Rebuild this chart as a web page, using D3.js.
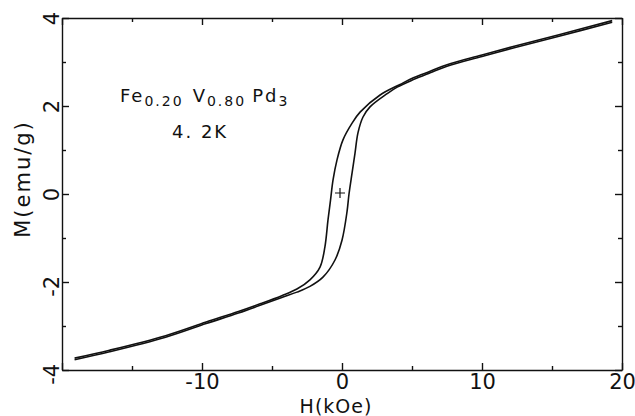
<!DOCTYPE html>
<html>
<head>
<meta charset="utf-8">
<script src="https://cdn.jsdelivr.net/npm/d3@7"></script>
<style>
  body { margin: 0; background: #fff; }
  svg { display: block; }
  text { font-family: "DejaVu Sans", sans-serif; fill: #111; }
  .axis path, .axis line { stroke: #111; stroke-width: 1.4; }
</style>
</head>
<body>
<div id="chart"></div>
<script>
// descending branch (field swept from +20 kOe to -20 kOe)
const hDesc = [19.3, 15.5, 12.3, 10, 7.5, 6.3, 5.1, 4.15, 2.72, 1.29, 0.72, 0.07, -0.36, -0.64, -0.82, -1.0, -1.22, -1.57, -2.29, -3.22, -4.3, -5.8, -7.4, -9.7, -12.6, -16.6, -19.1];
const mDesc = [3.94, 3.62, 3.36, 3.16, 2.94, 2.79, 2.64, 2.49, 2.25, 1.86, 1.61, 1.23, 0.77, 0.32, -0.14, -0.59, -1.2, -1.66, -1.95, -2.16, -2.31, -2.49, -2.67, -2.91, -3.22, -3.55, -3.73];

// ascending branch (field swept from -20 kOe to +20 kOe)
const hAsc = [-19.1, -16.6, -12.6, -9.7, -7.4, -5.8, -4.3, -3.22, -2.29, -1.36, -0.5, 0, 0.36, 0.5, 0.72, 0.93, 1.14, 1.5, 2.0, 3.22, 3.94, 5.1, 6.3, 7.5, 10, 12.3, 15.5, 19.3];
const mAsc = [-3.765, -3.585, -3.255, -2.945, -2.705, -2.525, -2.35, -2.23, -2.10, -1.89, -1.5, -1.05, -0.40, 0.0, 0.48, 0.93, 1.39, 1.75, 1.98, 2.28, 2.43, 2.60, 2.755, 2.905, 3.125, 3.325, 3.585, 3.905];

const xMajor = [-20, -10, 0, 10, 20];
const xMinor = [-15, -5, 5, 15];
const yMajor = [-4, -2, 0, 2, 4];
const yMinor = [-3, -1, 1, 3];

const width = 635, height = 416;

const svg = d3.select('#chart')
    .append('svg')
    .attr('width', width)
    .attr('height', height);

const x = d3.scaleLinear().domain([-20, 20]).range([62, 622]);
const y = d3.scaleLinear().domain([-4, 4]).range([370, 18]);

const fmt = d => String(d);

// bottom axis with labels (ticks point inward)
const gx = svg.append('g')
    .attr('class', 'axis')
    .attr('transform', `translate(0,${y(-4)})`)
    .call(d3.axisBottom(x).tickValues(xMajor).tickSize(-7).tickSizeOuter(0).tickPadding(4).tickFormat(fmt));
gx.selectAll('text').attr('font-size', 21);
// the -20 corner carries no label
gx.selectAll('.tick').filter(d => d === -20).select('text').remove();

svg.append('g')
    .attr('class', 'axis')
    .attr('transform', `translate(0,${y(-4)})`)
    .call(d3.axisBottom(x).tickValues(xMinor).tickSize(-4).tickFormat(''))
    .select('.domain').remove();

// top axis
svg.append('g')
    .attr('class', 'axis')
    .attr('transform', `translate(0,${y(4)})`)
    .call(d3.axisTop(x).tickValues(xMajor).tickSize(-7).tickSizeOuter(0).tickFormat(''));
svg.append('g')
    .attr('class', 'axis')
    .attr('transform', `translate(0,${y(4)})`)
    .call(d3.axisTop(x).tickValues(xMinor).tickSize(-4).tickFormat(''))
    .select('.domain').remove();

// left axis, labels rotated with the digit centred on the tick
const gy = svg.append('g')
    .attr('class', 'axis')
    .attr('transform', `translate(${x(-20)},0)`)
    .call(d3.axisLeft(y).tickValues(yMajor).tickSize(-7).tickSizeOuter(0).tickFormat(fmt));
gy.selectAll('text')
    .attr('font-size', 21)
    .attr('x', 0)
    .attr('dx', '0.32em')
    .attr('dy', '0.36em')
    .attr('text-anchor', 'end')
    .attr('transform', 'translate(-11,0) rotate(-90)');

svg.append('g')
    .attr('class', 'axis')
    .attr('transform', `translate(${x(-20)},0)`)
    .call(d3.axisLeft(y).tickValues(yMinor).tickSize(-4).tickFormat(''))
    .select('.domain').remove();

// right axis
svg.append('g')
    .attr('class', 'axis')
    .attr('transform', `translate(${x(20)},0)`)
    .call(d3.axisRight(y).tickValues(yMajor).tickSize(-7).tickSizeOuter(0).tickFormat(''));
svg.append('g')
    .attr('class', 'axis')
    .attr('transform', `translate(${x(20)},0)`)
    .call(d3.axisRight(y).tickValues(yMinor).tickSize(-4).tickFormat(''))
    .select('.domain').remove();

// axis titles
svg.append('text')
    .attr('x', 336)
    .attr('y', 413)
    .attr('text-anchor', 'middle')
    .attr('font-size', 19)
    .attr('letter-spacing', 1)
    .text('H(kOe)');

svg.append('text')
    .attr('transform', 'translate(30,179) rotate(-90)')
    .attr('text-anchor', 'middle')
    .attr('font-size', 21)
    .attr('letter-spacing', 2)
    .text('M(emu/g)');

// hysteresis branches
const line = d3.line()
    .x(d => x(d[0]))
    .y(d => y(d[1]))
    .curve(d3.curveCatmullRom.alpha(0.5));

const branches = [
    d3.zip(hDesc, mDesc),
    d3.zip(hAsc, mAsc)
];

svg.append('g')
    .selectAll('path')
    .data(branches)
    .join('path')
    .attr('d', line)
    .attr('fill', 'none')
    .attr('stroke', '#111')
    .attr('stroke-width', 1.6)
    .attr('stroke-linejoin', 'round');

// origin marker
const ox = x(0) - 2, oy = y(0) - 1;
svg.append('path')
    .attr('d', `M${ox - 5},${oy}H${ox + 5}M${ox},${oy - 5}V${oy + 5}`)
    .attr('stroke', '#111')
    .attr('stroke-width', 1.2);

// sample annotation
const label = svg.append('text')
    .attr('x', 120)
    .attr('y', 102)
    .attr('font-size', 18)
    .attr('letter-spacing', 2);
label.append('tspan').text('Fe');
label.append('tspan').attr('font-size', 14).attr('dy', 4).text('0.20');
label.append('tspan').attr('dy', -4).attr('dx', 9).text('V');
label.append('tspan').attr('font-size', 14).attr('dy', 4).text('0.80');
label.append('tspan').attr('dy', -4).attr('dx', 6).text('Pd');
label.append('tspan').attr('font-size', 14).attr('dy', 4).text('3');

svg.append('text')
    .attr('x', 172)
    .attr('y', 138)
    .attr('font-size', 18)
    .attr('letter-spacing', 2)
    .text('4. 2K');
</script>
</body>
</html>
